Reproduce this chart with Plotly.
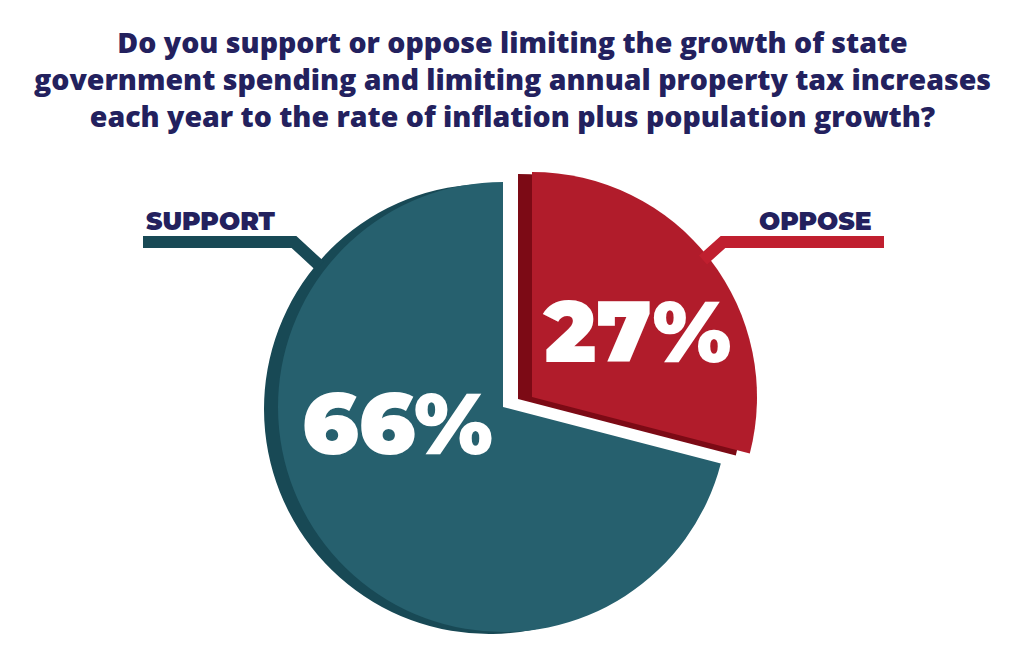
import plotly.graph_objects as go

# ---- data ----
categories = ["OPPOSE", "SUPPORT"]
values = [27, 66]
title_lines = [
    "Do you support or oppose limiting the growth of state",
    "government spending and limiting annual property tax increases",
    "each year to the rate of inflation plus population growth?",
]

# ---- style ----
W, H = 1024, 671
TEAL, TEAL_DARK = "#26606e", "#184955"
RED, RED_DARK = "#b11c2b", "#7c0a15"
NAVY = "#23215e"
TRANSPARENT = "rgba(0,0,0,0)"
R = 225
DEPTH_DX, DEPTH_DY = -14, 2
TEAL_C = (503, 407)
RED_C = (532, 397)
PCT_FONT = dict(family="Montserrat, Lato, Roboto, sans-serif", size=86, color="white", weight=900)
LABEL_FONT = dict(family="Montserrat, Lato, Roboto, sans-serif", size=25, color=NAVY, weight=900)
TITLE_FONT = dict(family="Open Sans, sans-serif", size=28.5, color=NAVY, weight=800)


def px(x, y):
    return x / W, 1 - y / H


def dom(cx, cy, r=R):
    return dict(x=[(cx - r) / W, (cx + r) / W],
                y=[1 - (cy + r) / H, 1 - (cy - r) / H])


def pie(center, colors):
    return go.Pie(
        labels=categories, values=values, sort=False, direction="clockwise",
        rotation=0, domain=dom(*center),
        marker=dict(colors=colors, line=dict(width=0)),
        textinfo="none", hoverinfo="skip", showlegend=False,
    )


pct = [f"{v}%" for v in values]
fig = go.Figure()
fig.add_trace(pie((TEAL_C[0] + DEPTH_DX, TEAL_C[1] + DEPTH_DY), [TRANSPARENT, TEAL_DARK]))
fig.add_trace(pie(TEAL_C, [TRANSPARENT, TEAL]))
fig.add_trace(pie((RED_C[0] + DEPTH_DX, RED_C[1] + DEPTH_DY), [RED_DARK, TRANSPARENT]))
fig.add_trace(pie(RED_C, [RED, TRANSPARENT]))


def path(points):
    return "M " + " L ".join("{:.5f},{:.5f}".format(*px(x, y)) for x, y in points)


shapes = [
    dict(type="path", path=path([(143, 242), (294, 242), (320, 266)]),
         line=dict(color=TEAL_DARK, width=12), xref="paper", yref="paper"),
    dict(type="path", path=path([(884, 242), (723, 242), (703, 260)]),
         line=dict(color="#c01f2f", width=12), xref="paper", yref="paper"),
]

annotations = [
    dict(text="<br>".join(title_lines), x=0.5, y=px(0, 79)[1], xref="paper", yref="paper",
         xanchor="center", yanchor="middle", align="center", showarrow=False,
         font=TITLE_FONT),
    dict(text=categories[1], x=px(144, 0)[0], y=px(0, 221)[1], xref="paper", yref="paper",
         xanchor="left", yanchor="middle", showarrow=False, font=LABEL_FONT),
    dict(text=categories[0], x=px(757, 0)[0], y=px(0, 221)[1], xref="paper", yref="paper",
         xanchor="left", yanchor="middle", showarrow=False, font=LABEL_FONT),
    # percent labels placed relative to each slice's centre
    dict(text=pct[1], x=px(TEAL_C[0] - 106, 0)[0], y=px(0, TEAL_C[1] + 16)[1],
         xref="paper", yref="paper", xanchor="center", yanchor="middle",
         showarrow=False, font=PCT_FONT),
    dict(text=pct[0], x=px(RED_C[0] + 104, 0)[0], y=px(0, RED_C[1] - 66)[1],
         xref="paper", yref="paper", xanchor="center", yanchor="middle",
         showarrow=False, font=PCT_FONT),
]

fig.update_layout(
    width=W, height=H, margin=dict(l=0, r=0, t=0, b=0),
    paper_bgcolor="white", plot_bgcolor="white",
    shapes=shapes, annotations=annotations,
)
fig.write_html("out.html", config={"displayModeBar": False},
               post_script="document.body.style.margin='0';")
